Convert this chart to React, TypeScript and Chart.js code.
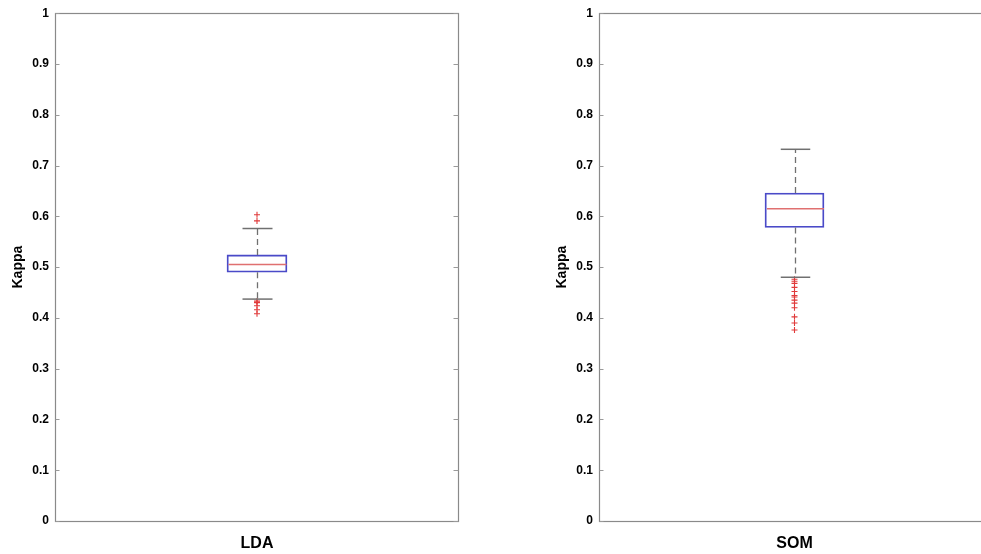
import React, { useEffect, useRef } from 'react';
import { Chart, registerables } from 'chart.js';

Chart.register(...registerables);

// ---- data ----
const categories = ['LDA', 'SOM'];
const lowerWhisker = [0.437, 0.48];
const q1 = [0.49, 0.578];
const median = [0.505, 0.615];
const q3 = [0.524, 0.646];
const upperWhisker = [0.576, 0.732];
const outliersLDA = [0.603, 0.591, 0.433, 0.43, 0.424, 0.416, 0.408];
const outliersSOM = [0.476, 0.472, 0.468, 0.46, 0.452, 0.444, 0.441, 0.435, 0.429, 0.42, 0.402, 0.39, 0.376];
const outliers = [outliersLDA, outliersSOM];
const yTicks = [0, 0.1, 0.2, 0.3, 0.4, 0.5, 0.6, 0.7, 0.8, 0.9, 1];
const yTickLabels = ['0', '0.1', '0.2', '0.3', '0.4', '0.5', '0.6', '0.7', '0.8', '0.9', '1'];
const yTitle = 'Kappa';

const FONT = 'Liberation Sans, Arial, Helvetica, sans-serif';

const boxExtras = {
  id: 'boxExtras',
  afterDatasetsDraw(chart: any, _args: any, opts: any) {
    const { ctx, chartArea: a, scales } = chart;
    const x = scales.x;
    const y = scales.y;
    const i = opts.index;
    const cx = Math.round(x.getPixelForValue(0)) + 0.5;
    const hw = opts.boxWidth / 2;
    const py = (v: number) => y.getPixelForValue(v);
    const seg = (x1: number, y1: number, x2: number, y2: number) => {
      ctx.beginPath();
      ctx.moveTo(x1, y1);
      ctx.lineTo(x2, y2);
      ctx.stroke();
    };
    ctx.save();
    // whiskers
    ctx.strokeStyle = '#707070';
    ctx.lineWidth = 1.3;
    ctx.setLineDash([6, 4]);
    seg(cx, py(q3[i]), cx, py(upperWhisker[i]));
    seg(cx, py(q1[i]), cx, py(lowerWhisker[i]));
    ctx.setLineDash([]);
    // caps
    ctx.lineWidth = 1.5;
    seg(cx - hw / 2, py(upperWhisker[i]), cx + hw / 2, py(upperWhisker[i]));
    seg(cx - hw / 2, py(lowerWhisker[i]), cx + hw / 2, py(lowerWhisker[i]));
    // median
    ctx.strokeStyle = '#e07070';
    ctx.lineWidth = 1.6;
    seg(cx - hw + 1, py(median[i]), cx + hw - 1, py(median[i]));
    // frame
    ctx.strokeStyle = '#8a8a8a';
    ctx.lineWidth = 1.2;
    const L = Math.round(a.left) + 0.5;
    const R = Math.round(a.right) - 0.5;
    const T = Math.round(a.top) + 0.5;
    const B = Math.round(a.bottom) + 0.5;
    ctx.strokeRect(L, T, R - L, B - T);
    // inward ticks
    ctx.lineWidth = 1;
    ctx.strokeStyle = '#9a9a9a';
    yTicks.forEach((t) => {
      const yy = Math.round(py(t)) + 0.5;
      seg(L, yy, L + 4, yy);
      seg(R, yy, R - 5, yy);
    });
    ctx.restore();
  },
};

function Panel(props: { index: number; left: number; width: number; padRight: number; boxWidth: number }) {
  const ref = useRef<HTMLCanvasElement | null>(null);
  const { index, left, width, padRight, boxWidth } = props;
  useEffect(() => {
    if (!ref.current) return;
    const cat = categories[index];
    const chart = new Chart(ref.current, {
      type: 'bar',
      data: {
        labels: [cat],
        datasets: [
          {
            type: 'bar',
            data: [[q1[index], q3[index]]] as any,
            backgroundColor: 'rgba(0,0,0,0)',
            borderColor: '#4a4ac8',
            borderWidth: 1.2,
            borderSkipped: false,
            barThickness: boxWidth,
          } as any,
          {
            type: 'line',
            data: outliers[index].map((v) => ({ x: cat, y: v })) as any,
            showLine: false,
            pointStyle: 'cross',
            pointRadius: 3,
            pointBorderColor: '#e03a3a',
            pointBorderWidth: 1.1,
            pointBackgroundColor: '#e03a3a',
          } as any,
        ],
      },
      options: {
        animation: false,
        responsive: false,
        maintainAspectRatio: false,
        devicePixelRatio: 1,
        layout: { padding: { top: 13, right: padRight, left: 0, bottom: 0 } },
        plugins: {
          legend: { display: false },
          tooltip: { enabled: false },
          boxExtras: { index, boxWidth },
        } as any,
        scales: {
          x: {
            type: 'category',
            grid: { display: false, drawTicks: false },
            border: { display: false },
            ticks: {
              color: '#000',
              padding: 13,
              font: { family: FONT, size: 16, weight: 'bold' },
            },
            afterFit: (s: any) => {
              s.height = 33;
            },
          },
          y: {
            min: 0,
            max: 1,
            grid: { display: false, drawTicks: false },
            border: { display: false },
            afterBuildTicks: (s: any) => {
              s.ticks = yTicks.map((v) => ({ value: v }));
            },
            ticks: {
              color: '#000',
              padding: 6,
              font: { family: FONT, size: 12, weight: 'bold' },
              callback: (_v: any, i: number) => yTickLabels[i],
            },
            title: {
              display: true,
              text: yTitle,
              color: '#000',
              padding: { top: 10, bottom: 0 },
              font: { family: FONT, size: 14, weight: 'bold' },
            },
            afterFit: (s: any) => {
              s.width = 55;
            },
          },
        },
      },
      plugins: [boxExtras],
    });
    return () => chart.destroy();
  }, []);
  return (
    <canvas
      ref={ref}
      width={width}
      height={554}
      style={{ position: 'absolute', left, top: 0, width, height: 554 }}
    />
  );
}

export default function App() {
  return (
    <div
      style={{
        position: 'absolute',
        left: 0,
        top: 0,
        width: 981,
        height: 554,
        overflow: 'hidden',
        background: '#fff',
      }}
    >
      <Panel index={0} left={0} width={480} padRight={21} boxWidth={60} />
      <Panel index={1} left={544} width={456} padRight={10} boxWidth={59} />
    </div>
  );
}
